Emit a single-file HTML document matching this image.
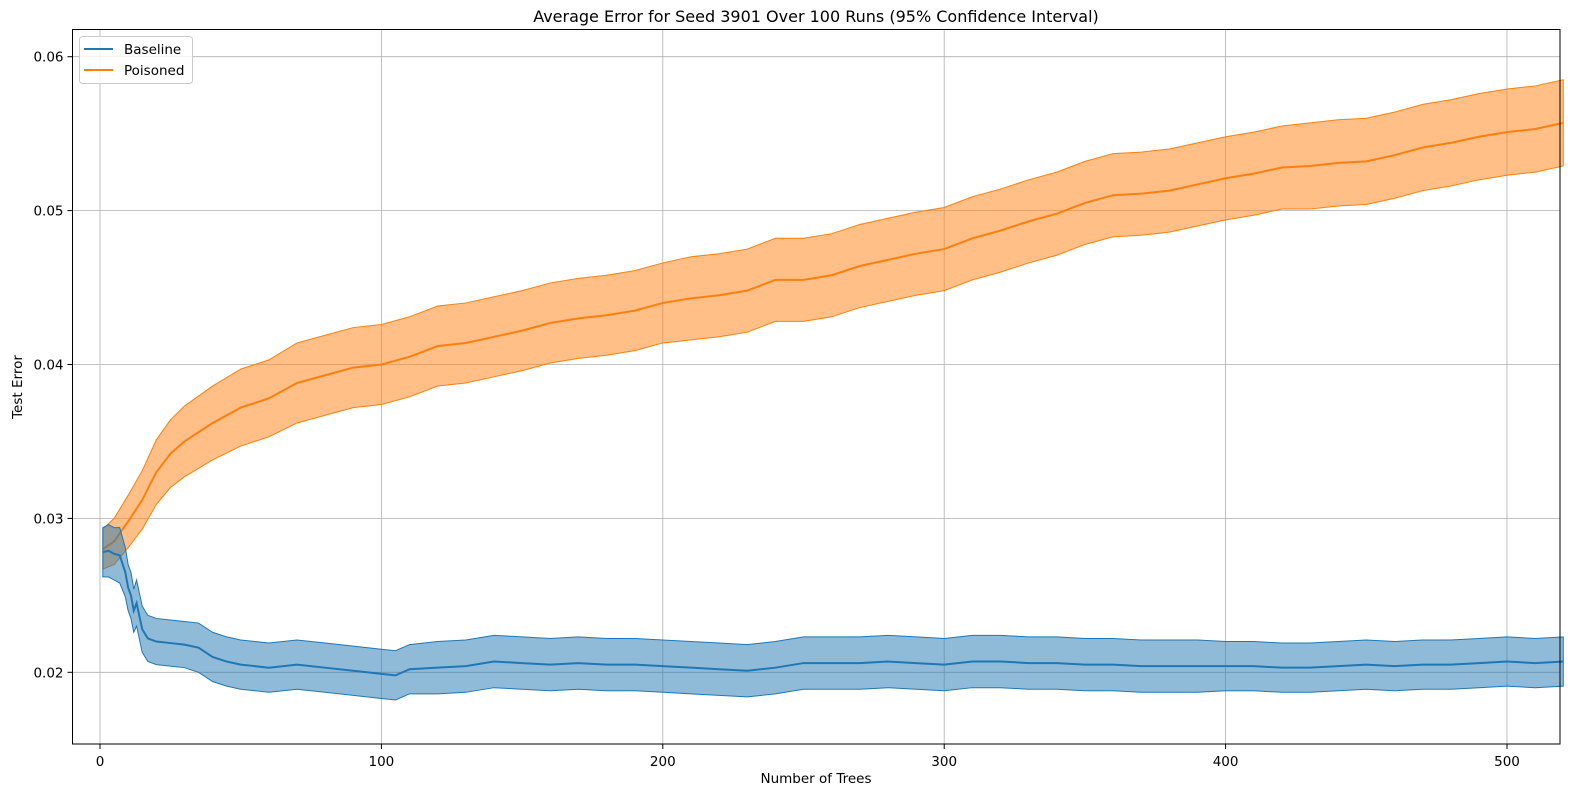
<!DOCTYPE html>
<html><head><meta charset="utf-8"><style>
body{margin:0;background:#fff;font-family:"DejaVu Sans","Liberation Sans",sans-serif;}
svg text{font-family:"DejaVu Sans","Liberation Sans",sans-serif;font-size:13.5px;fill:#000}
</style></head><body>
<svg id="chart" width="1579" height="799">
<text x="816" y="22" text-anchor="middle" style="font-size:16px">Average Error for Seed 3901 Over 100 Runs (95% Confidence Interval)</text>
<g id="grid"></g><g id="series"></g><g id="axes"></g>
<text x="816" y="783" text-anchor="middle">Number of Trees</text>
<text transform="translate(22,387) rotate(-90)" text-anchor="middle">Test Error</text>
<g>
<rect x="79.5" y="36.5" width="113" height="47" rx="3" fill="#fff" fill-opacity="0.8" stroke="#ccc"/>
<g><line x1="84" y1="49" x2="113" y2="49" stroke="#1f77b4" stroke-width="2"/><text x="124" y="54">Baseline</text></g>
<g><line x1="84" y1="70" x2="113" y2="70" stroke="#ff7f0e" stroke-width="2"/><text x="124" y="75">Poisoned</text></g>
</g>
</svg>
<script>
const baseX=[1,3,5,7,9,10,11,12,13,15,17,20,25,30,35,40,45,50,60,70,80,90,100,105,110,120,130,140,150,160,170,180,190,200,210,220,230,240,250,260,270,280,290,300,310,320,330,340,350,360,370,380,390,400,410,420,430,440,450,460,470,480,490,500,510,520];
const baseMean=[0.0278,0.0279,0.0277,0.0276,0.0265,0.0255,0.0250,0.0240,0.0245,0.0228,0.0222,0.0220,0.0219,0.0218,0.0216,0.0210,0.0207,0.0205,0.0203,0.0205,0.0203,0.0201,0.0199,0.0198,0.0202,0.0203,0.0204,0.0207,0.0206,0.0205,0.0206,0.0205,0.0205,0.0204,0.0203,0.0202,0.0201,0.0203,0.0206,0.0206,0.0206,0.0207,0.0206,0.0205,0.0207,0.0207,0.0206,0.0206,0.0205,0.0205,0.0204,0.0204,0.0204,0.0204,0.0204,0.0203,0.0203,0.0204,0.0205,0.0204,0.0205,0.0205,0.0206,0.0207,0.0206,0.0207];
const baseHalf=[0.0016,0.0017,0.0017,0.0018,0.0016,0.0015,0.0015,0.0014,0.0015,0.0015,0.0015,0.0015,0.0015,0.0015,0.0016,0.0016,0.0016,0.0016,0.0016,0.0016,0.0016,0.0016,0.0016,0.0016,0.0016,0.0017,0.0017,0.0017,0.0017,0.0017,0.0017,0.0017,0.0017,0.0017,0.0017,0.0017,0.0017,0.0017,0.0017,0.0017,0.0017,0.0017,0.0017,0.0017,0.0017,0.0017,0.0017,0.0017,0.0017,0.0017,0.0017,0.0017,0.0017,0.0016,0.0016,0.0016,0.0016,0.0016,0.0016,0.0016,0.0016,0.0016,0.0016,0.0016,0.0016,0.0016];
const poisX=[1,5,10,15,20,25,30,40,50,60,70,80,90,100,110,120,130,140,150,160,170,180,190,200,210,220,230,240,250,260,270,280,290,300,310,320,330,340,350,360,370,380,390,400,410,420,430,440,450,460,470,480,490,500,510,520];
const poisMean=[0.0280,0.0285,0.0298,0.0312,0.0330,0.0342,0.0350,0.0362,0.0372,0.0378,0.0388,0.0393,0.0398,0.0400,0.0405,0.0412,0.0414,0.0418,0.0422,0.0427,0.0430,0.0432,0.0435,0.0440,0.0443,0.0445,0.0448,0.0455,0.0455,0.0458,0.0464,0.0468,0.0472,0.0475,0.0482,0.0487,0.0493,0.0498,0.0505,0.0510,0.0511,0.0513,0.0517,0.0521,0.0524,0.0528,0.0529,0.0531,0.0532,0.0536,0.0541,0.0544,0.0548,0.0551,0.0553,0.0557];
const poisHalf=[0.0013,0.0015,0.0017,0.0019,0.0021,0.0022,0.0023,0.0024,0.0025,0.0025,0.0026,0.0026,0.0026,0.0026,0.0026,0.0026,0.0026,0.0026,0.0026,0.0026,0.0026,0.0026,0.0026,0.0026,0.0027,0.0027,0.0027,0.0027,0.0027,0.0027,0.0027,0.0027,0.0027,0.0027,0.0027,0.0027,0.0027,0.0027,0.0027,0.0027,0.0027,0.0027,0.0027,0.0027,0.0027,0.0027,0.0028,0.0028,0.0028,0.0028,0.0028,0.0028,0.0028,0.0028,0.0028,0.0028];
const xTicks=[0,100,200,300,400,500];
const yTicks=[0.02,0.03,0.04,0.05,0.06];
const yTickLabels=["0.02","0.03","0.04","0.05","0.06"];

const L=72.5,R=1560,T=29.5,B=744;
const sx=v=>100+v*(1507-100)/500;
const sy=v=>672.3-(v-0.02)*(672.3-56.7)/0.04;
const NS="http://www.w3.org/2000/svg";
function mk(tag,attrs,parent){const e=document.createElementNS(NS,tag);for(const k in attrs)e.setAttribute(k,attrs[k]);parent.appendChild(e);return e;}
const grid=document.getElementById('grid'),axes=document.getElementById('axes'),series=document.getElementById('series');
xTicks.forEach(t=>{
  const g=mk('line',{x1:sx(t),x2:sx(t),y1:T,y2:B,stroke:'#b0b0b0','stroke-width':0.8},grid);
  
  
  mk('line',{x1:sx(t),x2:sx(t),y1:B,y2:B+5,stroke:'#000'},axes);
  const tx=mk('text',{x:sx(t),y:B+22,'text-anchor':'middle'},axes);tx.textContent=t;
  
  
});
yTicks.forEach((t,i)=>{
  const g=mk('line',{x1:L,x2:R,y1:sy(t),y2:sy(t),stroke:'#b0b0b0','stroke-width':0.8},grid);
  
  
  mk('line',{x1:L-5,x2:L,y1:sy(t),y2:sy(t),stroke:'#000'},axes);
  const tx=mk('text',{x:L-9,y:sy(t)+5,'text-anchor':'end'},axes);tx.textContent=yTickLabels[i];
  
  
});
const frame=mk('rect',{x:L,y:T,width:R-L,height:B-T,fill:'none',stroke:'#000','stroke-width':1},axes);


function draw(xs,m,h,col,name){
  let up=xs.map((x,i)=>sx(x)+','+sy(m[i]+h[i]));
  let lo=xs.map((x,i)=>sx(x)+','+sy(m[i]-h[i])).reverse();
  const band=mk('polygon',{points:up.concat(lo).join(' '),fill:col,'fill-opacity':0.5,stroke:col,'stroke-width':1},series);
  
  
  const line=mk('polyline',{points:xs.map((x,i)=>sx(x)+','+sy(m[i])).join(' '),fill:'none',stroke:col,'stroke-width':2},series);
  
  
}
draw(poisX,poisMean,poisHalf,'#ff7f0e','poisoned');
draw(baseX,baseMean,baseHalf,'#1f77b4','baseline');
</script>
</body></html>
